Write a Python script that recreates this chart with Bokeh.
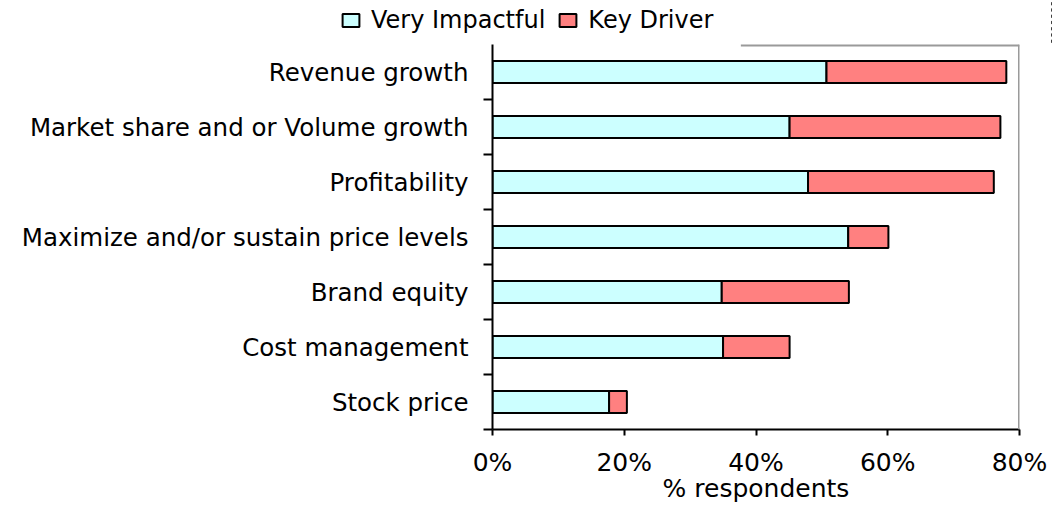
from bokeh.plotting import figure
from bokeh.models import ColumnDataSource, FixedTicker, Span, Legend, LegendItem, Range1d
from bokeh.embed import file_html
from bokeh.resources import INLINE

# ---- data ----
categories = ["Revenue growth", "Market share and or Volume growth", "Profitability",
              "Maximize and/or sustain price levels", "Brand equity", "Cost management",
              "Stock price"]
very_impactful = [50.7, 45.1, 47.9, 54.0, 34.8, 35.0, 17.7]
key_driver = [27.3, 32.0, 28.2, 6.1, 19.3, 10.1, 2.7]
x_ticks = [0, 20, 40, 60, 80]
x_tick_labels = ["0%", "20%", "40%", "60%", "80%"]
series_names = ["Very Impactful", "Key Driver"]
series_colors = ["#CCFFFF", "#FF8080"]
x_axis_title = "% respondents"

FONT = "DejaVu Sans"
n = len(categories)
ypos = [n - i - 0.5 for i in range(n)]
total = [v + k for v, k in zip(very_impactful, key_driver)]

src = ColumnDataSource(dict(y=ypos, cat=categories, vi=very_impactful, kd=key_driver,
                            zero=[0] * n, total=total))

# ---------------- main chart ----------------
p = figure(width=1052, height=462, output_backend="svg", toolbar_location=None,
           x_range=Range1d(0, 80), y_range=Range1d(0, n),
           min_border_left=492, min_border_right=33, min_border_top=0, min_border_bottom=77)
p.outline_line_color = None
p.background_fill_color = "white"
p.border_fill_color = "white"
p.xgrid.visible = False
p.ygrid.visible = False

p.hbar(y="y", left="zero", right="vi", height=0.4, source=src,
       fill_color=series_colors[0], line_color="black", line_width=2)
p.hbar(y="y", left="vi", right="total", height=0.4, source=src,
       fill_color=series_colors[1], line_color="black", line_width=2)

# frame decorations: right border and partial top border
p.add_layout(Span(location=80, dimension="height", line_color="#9a9a9a", line_width=3))
p.segment(x0=[37.7], x1=[80], y0=[n], y1=[n], line_color="#9a9a9a", line_width=4)

# y axis
yax = p.yaxis[0]
yax.ticker = FixedTicker(ticks=ypos, minor_ticks=list(range(0, n)))
yax.major_label_overrides = {float(y): c for y, c in zip(ypos, categories)}
yax.major_tick_out = 0
yax.major_tick_in = 0
yax.minor_tick_out = 9
yax.minor_tick_in = 0
yax.minor_tick_line_color = "black"
yax.minor_tick_line_width = 2
yax.axis_line_color = "black"
yax.axis_line_width = 2
yax.major_label_standoff = 15
yax.major_label_text_font = FONT
yax.major_label_text_font_size = "24.5px"
yax.major_label_text_color = "black"

# x axis
xax = p.xaxis[0]
xax.ticker = FixedTicker(ticks=x_ticks, minor_ticks=[])
xax.major_label_overrides = {t: l for t, l in zip(x_ticks, x_tick_labels)}
xax.major_tick_out = 6
xax.major_tick_in = 0
xax.major_tick_line_color = "black"
xax.major_tick_line_width = 2
xax.axis_line_color = "black"
xax.axis_line_width = 2
xax.major_label_standoff = 12
xax.major_label_text_font = FONT
xax.major_label_text_font_size = "25px"
xax.major_label_text_color = "black"
xax.axis_label = x_axis_title
xax.axis_label_text_font = FONT
xax.axis_label_text_font_size = "25px"
xax.axis_label_text_font_style = "normal"
xax.axis_label_text_color = "black"
xax.axis_label_standoff = -6

# ---------------- legend strip (separate root above the chart) ----------------
lg = figure(width=1052, height=44, output_backend="svg", toolbar_location=None,
            x_range=Range1d(-2, -1), y_range=Range1d(0, n),
            min_border_left=0, min_border_right=0, min_border_top=0, min_border_bottom=0,
            x_axis_type=None, y_axis_type=None)
lg.outline_line_color = None
lg.xgrid.visible = False
lg.ygrid.visible = False
items = []
for name, col, (lcol, rcol) in zip(series_names, series_colors, [("zero", "vi"), ("vi", "total")]):
    rr = lg.hbar(y="y", left=lcol, right=rcol, height=0.4, source=src,
                 fill_color=col, line_color="black", line_width=2)
    items.append(LegendItem(label=name, renderers=[rr]))
legend = Legend(items=items, orientation="horizontal", location=(340, 10),
                border_line_color=None, background_fill_alpha=0,
                padding=0, margin=0, spacing=12, label_standoff=10,
                glyph_width=21, glyph_height=16,
                label_text_font=FONT, label_text_font_size="24px",
                label_text_color="black")
lg.add_layout(legend, "center")

open("out.html", "w").write(file_html([lg, p], INLINE))
